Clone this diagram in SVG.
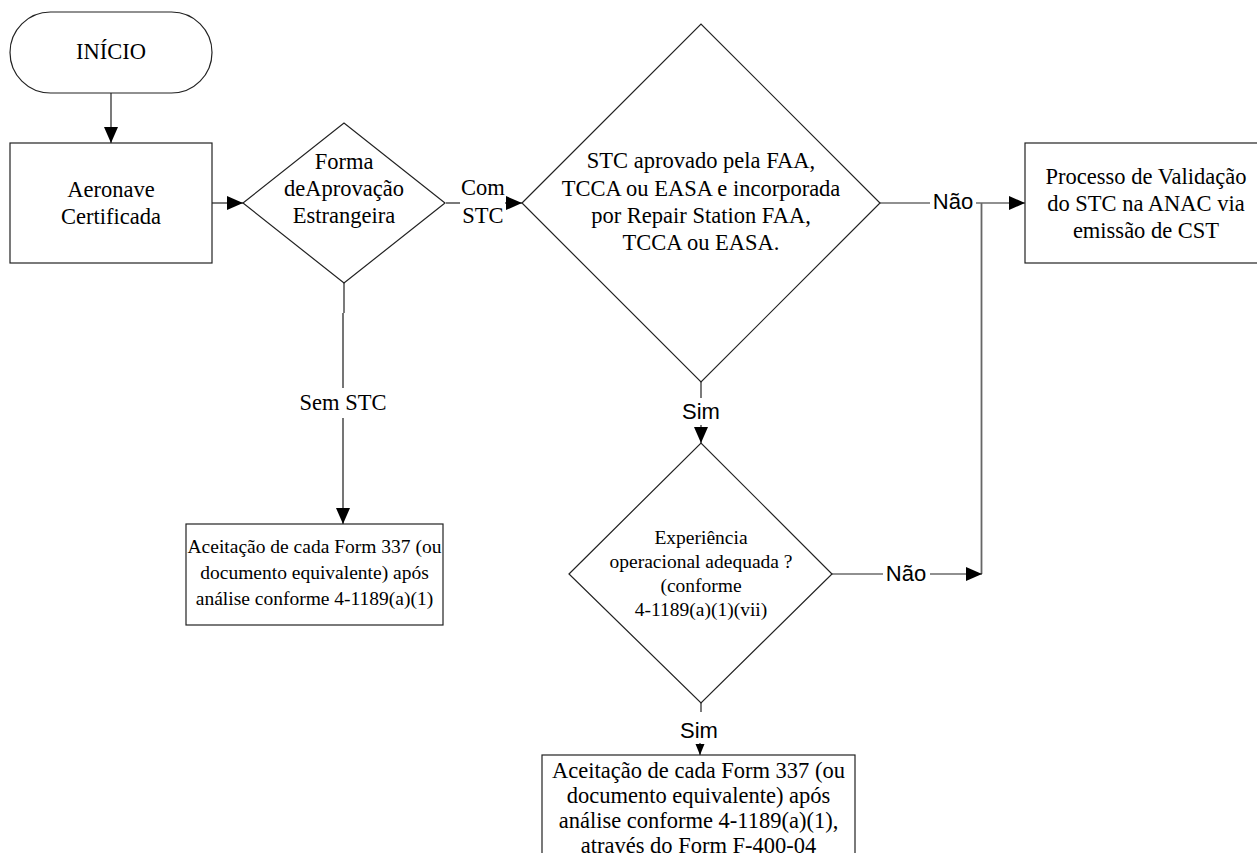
<svg xmlns="http://www.w3.org/2000/svg" width="1257" height="853" viewBox="0 0 1257 853">
<defs>
<style>
.shape{fill:#fff;stroke:#222;stroke-width:1.2}
.t{font-family:'Liberation Serif','Tinos','Times New Roman','DejaVu Serif',serif;font-size:22.5px;fill:#000;text-anchor:middle}
.ts{font-family:'Liberation Serif','Tinos','Times New Roman','DejaVu Serif',serif;font-size:19.5px;fill:#000;text-anchor:middle}
.lab{font-family:'Liberation Sans',Arial,sans-serif;font-size:22px;fill:#000;text-anchor:middle}
.c{fill:none;stroke:#222;stroke-width:1.2}
.g{fill:none;stroke:#666;stroke-width:1.8}
</style>
<marker id="ah" markerUnits="userSpaceOnUse" markerWidth="16" markerHeight="14" refX="16" refY="7" orient="auto">
<path d="M0,0 L16,7 L0,14 z" fill="#000"/>
</marker>
<marker id="ahs" markerUnits="userSpaceOnUse" markerWidth="11" markerHeight="10" refX="11" refY="4.5" orient="auto">
<path d="M0,0 L11,4.5 L0,9 z" fill="#000"/>
</marker>
</defs>
<rect width="1257" height="853" fill="#fff"/>

<g id="connectors">
<line class="c" x1="111" y1="93" x2="111" y2="143" marker-end="url(#ah)"/>
<line class="c" x1="212" y1="203" x2="243" y2="203" marker-end="url(#ah)"/>
<line class="c" x1="446" y1="203" x2="460" y2="203"/>
<line class="c" x1="505" y1="203" x2="522" y2="203" marker-end="url(#ah)"/>
<line class="c" x1="344" y1="283" x2="344" y2="313"/>
<line class="g" x1="343" y1="313" x2="343" y2="388"/>
<line class="g" x1="343" y1="418" x2="343" y2="524" marker-end="url(#ah)"/>
<text class="t" x="343" y="410" font-family="Liberation Serif, serif">Sem STC</text>
<text class="t" x="483" y="195" font-family="Liberation Serif, serif">Com</text>
<text class="t" x="483" y="223" font-family="Liberation Serif, serif">STC</text>
<line class="c" x1="880" y1="203" x2="930" y2="203"/>
<text class="lab" x="953" y="209">Não</text>
<line class="c" x1="976" y1="203" x2="1025" y2="203" marker-end="url(#ah)"/>
<line class="g" x1="981.5" y1="203" x2="981.5" y2="574"/>
<line class="c" x1="701" y1="382" x2="701" y2="398"/>
<text class="lab" x="701" y="419">Sim</text>
<line class="c" x1="701" y1="425" x2="701" y2="443" marker-end="url(#ah)"/>
<line class="c" x1="832" y1="574" x2="883" y2="574"/>
<text class="lab" x="906" y="581">Não</text>
<line class="c" x1="930" y1="574" x2="982" y2="574" marker-end="url(#ah)"/>
<line class="c" x1="701" y1="703" x2="701" y2="712"/>
<text class="lab" x="699" y="738">Sim</text>
<line class="c" x1="700" y1="743" x2="700" y2="755" marker-end="url(#ahs)"/>
</g>

<g id="inicio">
<rect class="shape" x="10" y="12" width="202" height="81" rx="40.5" ry="40.5"/>
<text class="t" x="111" y="59">INÍCIO</text>
</g>

<g id="aeronave">
<rect class="shape" x="10" y="143" width="202" height="120"/>
<text class="t" x="111" y="197">Aeronave</text>
<text class="t" x="111" y="224">Certificada</text>
</g>

<g id="forma">
<polygon class="shape" points="243,203 344,123 445,203 344,283"/>
<text class="t" x="344" y="169">Forma</text>
<text class="t" x="344" y="196">deAprovação</text>
<text class="t" x="344" y="223">Estrangeira</text>
</g>

<g id="stc-aprovado">
<polygon class="shape" points="522,203 701,24 880,203 701,382"/>
<text class="t" x="701" y="168">STC aprovado pela FAA,</text>
<text class="t" x="701" y="196">TCCA ou EASA e incorporada</text>
<text class="t" x="701" y="223">por Repair Station FAA,</text>
<text class="t" x="701" y="250">TCCA ou EASA.</text>
</g>

<g id="processo">
<rect class="shape" x="1025" y="143" width="240" height="120"/>
<text class="t" x="1146" y="184">Processo de Validação</text>
<text class="t" x="1146" y="211">do STC na ANAC via</text>
<text class="t" x="1146" y="238">emissão de CST</text>
</g>

<g id="aceitacao-1">
<rect class="shape" x="186" y="524" width="257" height="101"/>
<text class="ts" x="314.5" y="553">Aceitação de cada Form 337 (ou</text>
<text class="ts" x="314.5" y="579">documento equivalente) após</text>
<text class="ts" x="314.5" y="605">análise conforme 4-1189(a)(1)</text>
</g>

<g id="experiencia">
<polygon class="shape" points="569,574 701,443 832,574 701,703"/>
<text class="ts" x="701" y="544">Experiência</text>
<text class="ts" x="701" y="568">operacional adequada ?</text>
<text class="ts" x="701" y="592">(conforme</text>
<text class="ts" x="701" y="616">4-1189(a)(1)(vii)</text>
</g>

<g id="aceitacao-2">
<rect class="shape" x="542" y="755" width="313" height="120"/>
<text class="t" x="698.5" y="778">Aceitação de cada Form 337 (ou</text>
<text class="t" x="698.5" y="803">documento equivalente) após</text>
<text class="t" x="698.5" y="828">análise conforme 4-1189(a)(1),</text>
<text class="t" x="698.5" y="853">através do Form F-400-04</text>
</g>
</svg>
